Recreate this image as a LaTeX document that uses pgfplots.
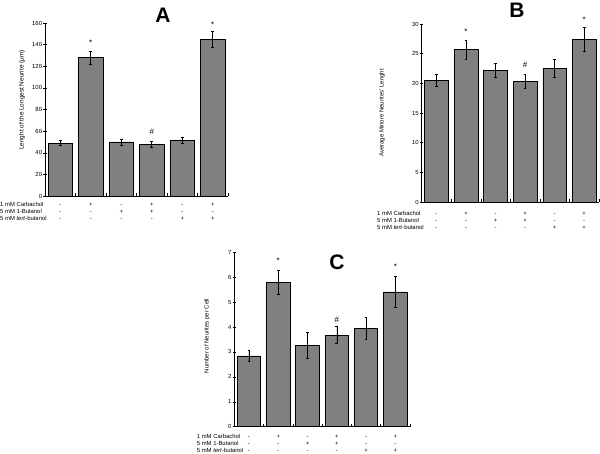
\documentclass[border=0pt]{standalone}
\usepackage{fontspec}
\setmainfont{Liberation Sans}
\usepackage{pgfplots}
\pgfplotsset{compat=1.18}
\definecolor{barfill}{RGB}{128,128,128}
\newcommand{\rowfont}{\fontsize{5.9}{7}\selectfont}
\pgfplotsset{
  panel/.style={
    scale only axis, anchor=south west, clip=false,
    xmin=-0.5, xmax=5.5, ymin=0,
    axis x line=bottom, axis y line=left,
    axis line style={-, line width=0.6pt, black},
    xtick={0,...,5},
    xticklabels={{\strut-\\\strut-\\\strut-},{\strut+\\\strut-\\\strut-},{\strut-\\\strut+\\\strut-},{\strut+\\\strut+\\\strut-},{\strut-\\\strut-\\\strut+},{\strut+\\\strut-\\\strut+}},
    x tick label style={align=center, font=\rowfont, inner sep=0pt, anchor=north},
    major x tick style={draw=none},
    minor xtick={0.5,1.5,...,5.5},
    minor x tick style={line width=0.5pt},
    minor tick length=3pt,
    xtick align=inside,
    ytick align=center,
    major tick length=3.5pt,
    y tick style={line width=0.5pt},
    y tick label style={font=\rowfont, inner sep=1pt},
    /pgf/number format/assume math mode=true,
    tick style={black},
  },
  bars/.style={
    ybar, bar width=0.8, fill=barfill, draw=black, line width=0.6pt,
    error bars/.cd, y dir=both, y explicit,
    error bar style={line width=0.5pt, black},
    error mark options={rotate=90, mark size=1.3pt, line width=0.5pt, black},
  },
  sig/.style={draw=none, mark=none, nodes near coords, point meta=explicit symbolic,
    nodes near coords style={anchor=base, inner sep=0pt, font=\fontsize{8}{8}\selectfont}},
}
\begin{document}
\begin{tikzpicture}
\useasboundingbox (0,0) rectangle (600pt,-453pt);
% Panel A
\begin{axis}[panel, at={(45pt,-196pt)}, width=183pt, height=173pt,
  ymax=160, ytick={0,20,...,160}, x tick label style={yshift=-5pt}]
\addplot[bars] table[x=x, y=y, y error=e] {
x y e
0 49 2.5
1 128 6.3
2 50 2.8
3 47.5 2.8
4 51.5 2.8
5 145 7.4
};
\addplot[sig] coordinates {(1,139.5) [*] (3,56.5) [\#] (5,155.8) [*]};
\end{axis}
% Panel B
\begin{axis}[panel, at={(421.7pt,-202pt)}, width=177.3pt, height=178pt,
  ymax=30, ytick={0,5,...,30}, x tick label style={yshift=-8pt}]
\addplot[bars] table[x=x, y=y, y error=e] {
x y e
0 20.5 1.07
1 25.7 1.57
2 22.2 1.24
3 20.3 1.2
4 22.5 1.5
5 27.4 1.97
};
\addplot[sig] coordinates {(1,28.2) [*] (3,22.6) [\#] (5,30.2) [*]};
\end{axis}
% Panel C
\begin{axis}[panel, at={(234.3pt,-426.7pt)}, width=175.7pt, height=174.4pt,
  ymax=7, ytick={0,1,...,7}, x tick label style={yshift=-6.5pt}]
\addplot[bars] table[x=x, y=y, y error=e] {
x y e
0 2.84 0.21
1 5.80 0.49
2 3.27 0.53
3 3.68 0.35
4 3.95 0.43
5 5.41 0.63
};
\addplot[sig] coordinates {(1,6.55) [*] (3,4.2) [\#] (5,6.31) [*]};
\end{axis}
% titles
\node[font=\fontsize{21}{21}\selectfont\bfseries] at (163pt,-15pt) {A};
\node[font=\fontsize{21}{21}\selectfont\bfseries] at (517pt,-10pt) {B};
\node[font=\fontsize{21}{21}\selectfont\bfseries] at (337pt,-262pt) {C};
% y labels
\node[rotate=90, font=\fontsize{6.4}{7}\selectfont] at (22pt,-100pt) {Lenght of the Longest Neurite (μm)};
\node[rotate=90, font=\fontsize{6}{7}\selectfont] at (382pt,-113pt) {Average Minore Neurites' Lenght};
\node[rotate=90, font=\fontsize{6}{7}\selectfont] at (207pt,-336pt) {Number of Neurites per Cell};
% row headers
\node[anchor=north west, align=left, inner sep=0pt, font=\rowfont] at (0pt,-201pt) {\strut 1 mM Carbachol\\\strut 5 mM 1-Butanol\\\strut 5 mM \textit{tert}-butanol};
\node[anchor=north west, align=left, inner sep=0pt, font=\rowfont] at (377pt,-210pt) {\strut 1 mM Carbachol\\\strut 5 mM 1-Butanol\\\strut 5 mM \textit{tert}-butanol};
\node[anchor=north west, align=left, inner sep=0pt, font=\rowfont] at (196.7pt,-433pt) {\strut 1 mM Carbachol\\\strut 5 mM 1-Butanol\\\strut 5 mM \textit{tert}-butanol};
\end{tikzpicture}
\end{document}
